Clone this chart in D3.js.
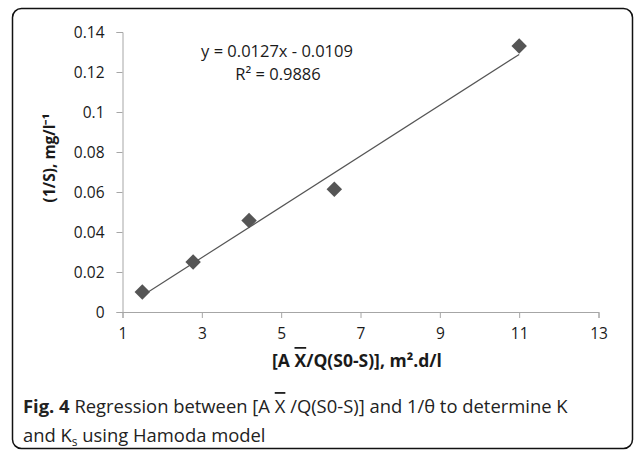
<!DOCTYPE html>
<html>
<head>
<meta charset="utf-8">
<script src="https://cdn.jsdelivr.net/npm/d3@7"></script>
<style>
  body { margin: 0; background: #fff; }
  text { font-family: 'Open Sans', 'Liberation Sans', sans-serif; }
  .ov { text-decoration: overline; }
</style>
</head>
<body>
<div id="app"></div>
<script>
// points
const xVals = [1.5, 2.78, 4.19, 6.34, 11.0];
const yVals = [0.010, 0.025, 0.0457, 0.0614, 0.133];
const xTicks = [1, 3, 5, 7, 9, 11, 13];
const yTicks = [0, 0.02, 0.04, 0.06, 0.08, 0.1, 0.12, 0.14];
const slope = 0.0127, intercept = -0.0109;

const W = 637, H = 451;
const svg = d3.select('#app').append('svg')
  .attr('width', W)
  .attr('height', H);

// frame
svg.append('rect')
  .attr('x', 12.5).attr('y', 8.5)
  .attr('width', 620).attr('height', 440)
  .attr('rx', 9)
  .attr('fill', 'none')
  .attr('stroke', '#111')
  .attr('stroke-width', 1.5);

const x = d3.scaleLinear().domain([1, 13]).range([122.5, 598.5]);
const y = d3.scaleLinear().domain([0, 0.14]).range([312, 32]);

const axisColor = '#a6a6a6';

// y axis
const gy = svg.append('g')
  .attr('transform', 'translate(' + x(1) + ',0)')
  .call(d3.axisLeft(y).tickValues(yTicks).tickSize(6).tickPadding(12)
    .tickFormat(d => d === 0 ? '0' : d3.format('')(+d.toFixed(2))));
gy.select('.domain').attr('stroke', axisColor);
gy.selectAll('.tick line').attr('stroke', axisColor);
gy.selectAll('.tick text')
  .attr('fill', '#1a1a1a')
  .style('font-size', '15.5px')
  .attr('dy', '0.36em');

// x axis
const gx = svg.append('g')
  .attr('transform', 'translate(0,' + y(0) + ')')
  .call(d3.axisBottom(x).tickValues(xTicks).tickSize(6).tickPadding(10));
gx.select('.domain').attr('stroke', axisColor);
gx.selectAll('.tick line').attr('stroke', axisColor);
gx.selectAll('.tick text')
  .attr('fill', '#1a1a1a')
  .style('font-size', '15.5px');

// trend line over data range
const lineX = [d3.min(xVals), d3.max(xVals)];
svg.append('line')
  .attr('x1', x(lineX[0])).attr('y1', y(slope * lineX[0] + intercept))
  .attr('x2', x(lineX[1])).attr('y2', y(slope * lineX[1] + intercept))
  .attr('stroke', '#555')
  .attr('stroke-width', 1.2);

// markers
const diamond = d3.symbol().type(d3.symbolSquare).size(120);
svg.selectAll('.pt')
  .data(xVals.map((v, i) => [v, yVals[i]]))
  .enter()
  .append('path')
  .attr('class', 'pt')
  .attr('d', diamond)
  .attr('transform', d => 'translate(' + x(d[0]) + ',' + y(d[1]) + ') rotate(45)')
  .attr('fill', '#555');

// equation
svg.append('text')
  .attr('x', 277).attr('y', 57)
  .attr('text-anchor', 'middle')
  .style('font-size', '16.5px')
  .attr('fill', '#1a1a1a')
  .text('y = 0.0127x - 0.0109');
svg.append('text')
  .attr('x', 278).attr('y', 80)
  .attr('text-anchor', 'middle')
  .style('font-size', '16.5px')
  .attr('fill', '#1a1a1a')
  .text('R² = 0.9886');

// axis titles
svg.append('text')
  .attr('transform', 'translate(55,158) rotate(-90)')
  .attr('text-anchor', 'middle')
  .style('font-size', '15.5px')
  .style('font-weight', 'bold')
  .attr('fill', '#1a1a1a')
  .text('(1/S), mg/l⁻¹');

const xt = svg.append('text')
  .attr('x', 357).attr('y', 367)
  .attr('text-anchor', 'middle')
  .style('font-size', '17.5px')
  .style('font-weight', 'bold')
  .attr('fill', '#1a1a1a');
xt.append('tspan').text('[A ');
xt.append('tspan').attr('class', 'ov').text('X');
xt.append('tspan').text('/Q(S0-S)], m².d/l');

// caption
const cap1 = svg.append('text')
  .attr('x', 23).attr('y', 413)
  .style('font-size', '18.4px')
  .attr('fill', '#222');
cap1.append('tspan').style('font-weight', 'bold').text('Fig. 4');
cap1.append('tspan').text(' Regression between [A ');
cap1.append('tspan').attr('class', 'ov').text('X');
cap1.append('tspan').text(' /Q(S0-S)] and 1/θ to determine K');

const cap2 = svg.append('text')
  .attr('x', 23).attr('y', 442)
  .style('font-size', '18.4px')
  .attr('fill', '#222');
cap2.append('tspan').text('and K');
cap2.append('tspan').attr('dy', 4).style('font-size', '12px').text('s');
cap2.append('tspan').attr('dy', -4).text(' using Hamoda model');
</script>
</body>
</html>
